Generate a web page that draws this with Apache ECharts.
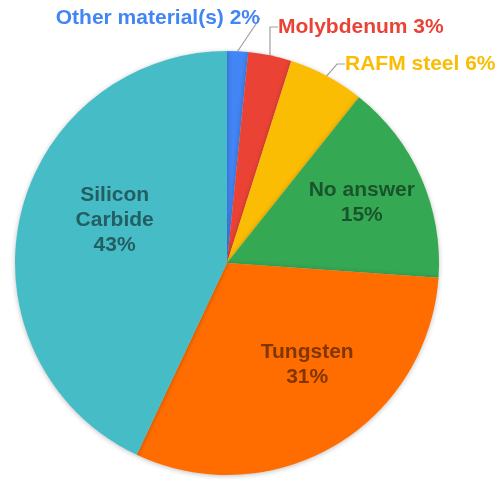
<!DOCTYPE html>
<html><head><meta charset="utf-8">
<script src="https://cdn.jsdelivr.net/npm/echarts@6/dist/echarts.min.js"></script>
<style>html,body{margin:0;padding:0;background:#fff;}#c{width:500px;height:479px;}</style>
</head><body><div id="c"></div>
<script>
var categories = ['Other material(s)', 'Molybdenum', 'RAFM steel', 'No answer', 'Tungsten', 'Silicon Carbide'];
var values = [1.6, 3.3, 5.8, 15.4, 30.9, 43.0];
var colors = ['#4285F4', '#EA4335', '#FBBC04', '#34A853', '#FF6D01', '#46BDC6'];
var textColors = ['#4285F4', '#EA4335', '#FBBC04', '#1A542A', '#803600', '#235E63'];
var inside = [false, false, false, true, true, true];

var chart = echarts.init(document.getElementById('c'), null, {renderer: 'canvas'});
var data = categories.map(function (n, i) {
  return {
    name: n, value: values[i],
    itemStyle: {color: colors[i]},
    label: inside[i] ? {
      position: 'inside', color: textColors[i], lineHeight: 25,
      formatter: function (p) { return (p.name === 'Silicon Carbide' ? 'Silicon\nCarbide' : p.name) + '\n' + Math.round(p.percent) + '%'; }
    } : {
      position: 'outside', color: textColors[i], overflow: 'none', width: null,
      formatter: function (p) { return p.name + ' ' + Math.round(p.percent) + '%'; }
    },
    labelLine: {show: !inside[i]}
  };
});
var outPos = {0: [260, 18, 'right'], 1: [278, 27, 'left'], 2: [345, 64, 'left']};
var inShift = {3: [35, -16], 4: [25, 8], 5: [-6, -19]};
chart.setOption({
  animation: false,
  series: [{
    type: 'pie',
    center: [227, 263],
    radius: [0, 212],
    startAngle: 90,
    clockwise: true,
    data: data,
    label: {fontFamily: 'Liberation Sans, Arial, sans-serif', fontWeight: 'bold', fontSize: 21, overflow: 'none'},
    labelLine: {length: 15, length2: 8, lineStyle: {color: '#a0a0a0', width: 1.2}},
    itemStyle: {shadowBlur: 5, shadowColor: 'rgba(0,0,0,0.25)', shadowOffsetY: 1},
    emphasis: {disabled: true},
    labelLayout: function (p) {
      var i = p.dataIndex;
      if (outPos[i]) return {x: outPos[i][0], y: outPos[i][1], align: outPos[i][2], verticalAlign: 'middle'};
      if (inShift[i]) return {dx: inShift[i][0], dy: inShift[i][1]};
      return {};
    }
  }]
});
</script></body></html>
